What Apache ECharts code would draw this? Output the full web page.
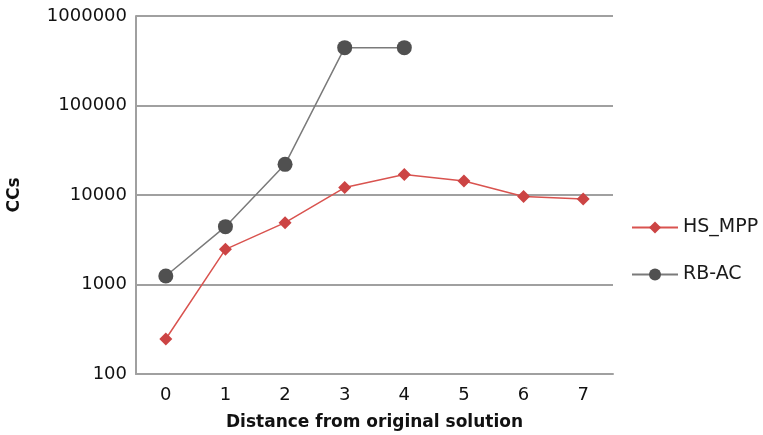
<!DOCTYPE html>
<html>
<head>
<meta charset="utf-8">
<script src="https://cdn.jsdelivr.net/npm/echarts@6/dist/echarts.min.js"></script>
<style>html,body{margin:0;padding:0;background:#fff}#c{width:763px;height:435px}</style>
</head>
<body>
<div id="c"></div>
<script>
const categories = ['0','1','2','3','4','5','6','7'];
const hsMpp = [246, 2470, 4910, 12100, 16900, 14300, 9600, 9050];
const rbAc = [1245, 4430, 22000, 443000, 443000, null, null, null];
const yTicks = [100, 1000, 10000, 100000, 1000000];

const chart = echarts.init(document.getElementById('c'));
chart.setOption({
  animation: false,
  backgroundColor: '#fff',
  grid: {left: 136, right: 150, top: 16, bottom: 61, outerBoundsMode: 'none', containLabel: false},
  legend: {
    orient: 'vertical', left: 626, top: 213, itemGap: 28, itemWidth: 46, itemHeight: 15,
    textStyle: {fontFamily: 'DejaVu Sans', fontSize: 19, color: '#1a1a1a'},
    data: ['HS_MPP', 'RB-AC']
  },
  xAxis: {
    type: 'category', data: categories, boundaryGap: true,
    name: 'Distance from original solution', nameLocation: 'middle', nameGap: 40,
    nameTextStyle: {fontFamily: 'DejaVu Sans', fontWeight: 'bold', fontSize: 17, color: '#111'},
    axisLine: {lineStyle: {color: '#a0a0a0', width: 2}},
    axisTick: {show: false},
    axisLabel: {fontFamily: 'DejaVu Sans', fontSize: 18, color: '#111', margin: 12}
  },
  yAxis: {
    type: 'log', logBase: 10, min: yTicks[0], max: yTicks[yTicks.length - 1],
    name: 'CCs', nameLocation: 'middle', nameGap: 113, nameRotate: 90,
    nameTextStyle: {fontFamily: 'DejaVu Sans', fontWeight: 'bold', fontSize: 17, color: '#111'},
    axisLine: {show: true, lineStyle: {color: '#a0a0a0', width: 2}},
    axisTick: {show: false},
    splitLine: {lineStyle: {color: '#a0a0a0', width: 2}},
    axisLabel: {fontFamily: 'DejaVu Sans', fontSize: 18, color: '#111', margin: 9,
      formatter: v => String(Math.round(v))}
  },
  series: [
    {
      name: 'HS_MPP', type: 'line', data: hsMpp, symbol: 'diamond', symbolSize: 13,
      itemStyle: {color: '#cc4444'}, lineStyle: {color: '#d9534f', width: 1.5}
    },
    {
      name: 'RB-AC', type: 'line', data: rbAc, symbol: 'circle', symbolSize: 15,
      itemStyle: {color: '#505050'}, lineStyle: {color: '#7a7a7a', width: 1.5}
    }
  ]
});
</script>
</body>
</html>
